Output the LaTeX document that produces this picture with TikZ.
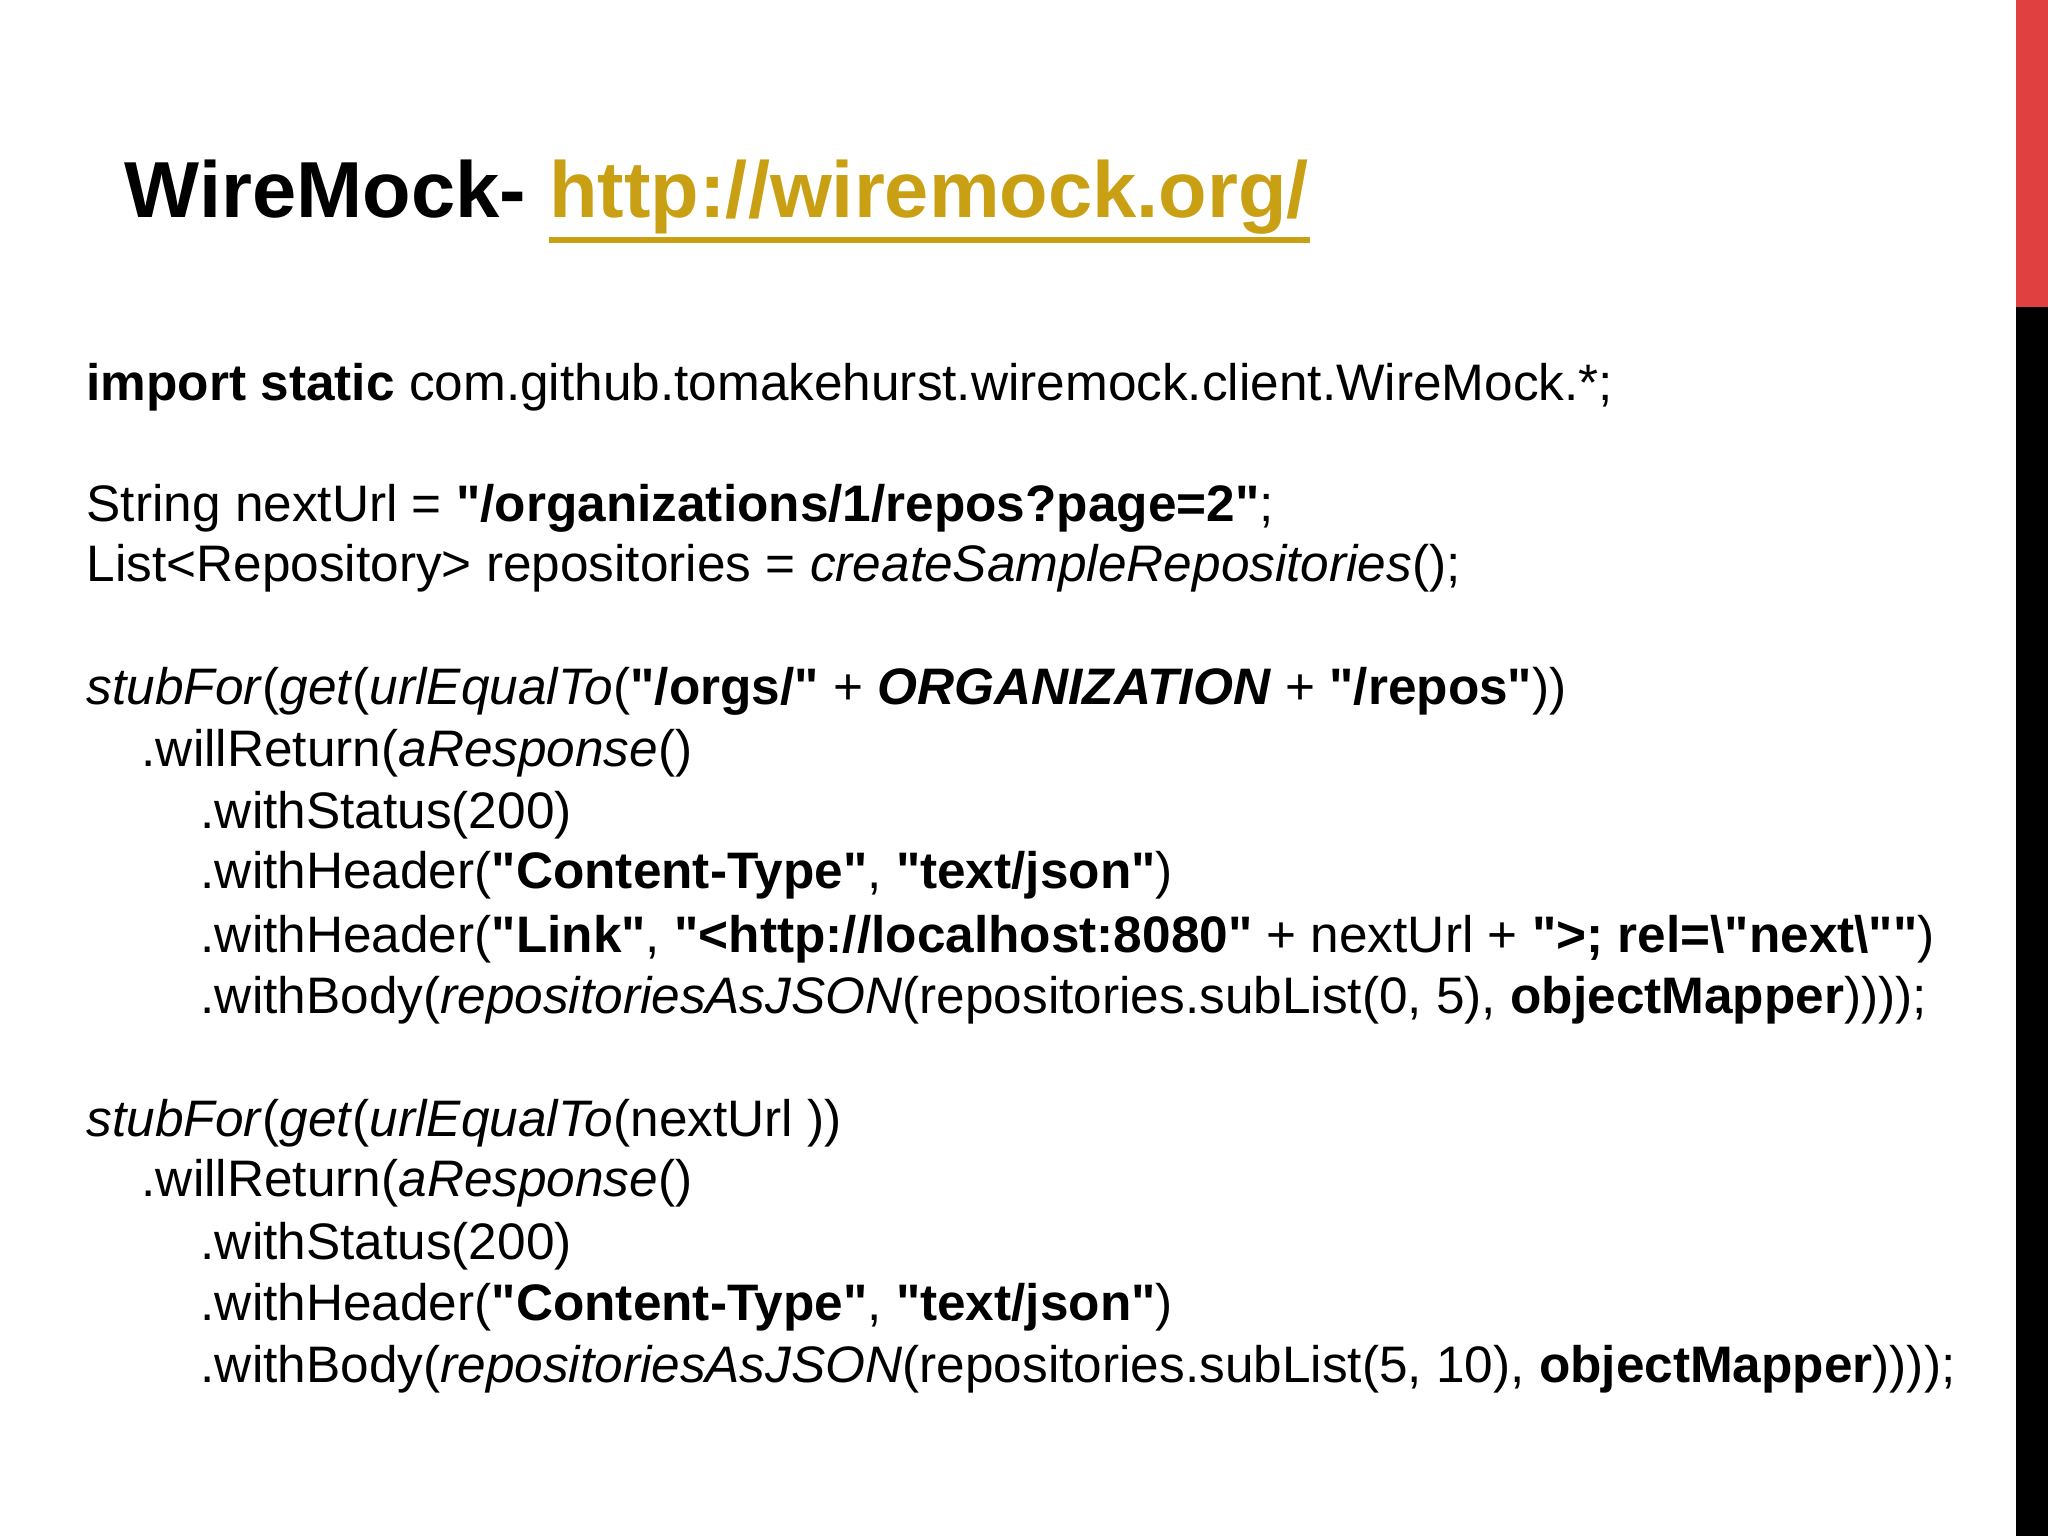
\documentclass[tikz,border=0pt]{standalone}
\usepackage{fontspec}
\setmainfont{Liberation Sans}[Ligatures=TeXOff]
\definecolor{gold}{HTML}{C9A013}
\definecolor{barred}{HTML}{E04040}
\newcommand{\B}[1]{\textbf{#1}}
\newcommand{\I}[1]{\textit{#1}}
\newcommand{\q}{"}
\begin{document}
\begin{tikzpicture}[x=0.01cm,y=-0.01cm,
  code/.style={anchor=west,inner sep=0pt,font=\fontsize{14.6}{18}\selectfont}]
\useasboundingbox[fill=white] (0,0) rectangle (2048,1536);
\fill[barred] (2016,0) rectangle (2048,307);
\fill[black] (2016,307) rectangle (2048,1536);
\node[anchor=base west,inner sep=0pt,font=\fontsize{22.6}{26}\selectfont\bfseries] (title) at (124,217) {WireMock-};
\node[anchor=base west,inner sep=0pt,font=\fontsize{22.6}{26}\selectfont\bfseries,text=gold] (link) at ([xshift=6.3pt]title.base east) {http://wiremock.org/};
\draw[gold,line width=1.8pt] ([yshift=-6.5pt]link.base west) -- ([yshift=-6.5pt]link.base east);
\begin{scope}[yshift=-1.5pt]
\node[code] (l1) at (86,382) {\B{import static} com.github.tomakehurst.wiremock.client.WireMock.*;};
\node[code] (l2) at (86,503) {String nextUrl = \B{\q/organizations/1/repos?page=2\q};};
\node[code] (l3) at (86,563) {List<Repository> repositories = \I{createSampleRepositories}();};
\node[code] (l4) at (86,686) {\I{stubFor}(\I{get}(\I{urlEqualTo}(\B{\q/orgs/\q} + \textbf{\textit{ORGANIZATION}} + \B{\q/repos\q}))};
\node[code] (l5) at (141,748) {.willReturn(\I{aResponse}()};
\node[code] (l6) at (200,810) {.withStatus(200)};
\node[code] (l7) at (200,870) {.withHeader(\B{\q Content-Type\q}, \B{\q text/json\q})};
\node[code] (l8) at (200,934) {.withHeader(\B{\q Link\q}, \B{\q<http://localhost:8080\q} + nextUrl + \B{\q>; rel=\textbackslash\q next\textbackslash\q\q})};
\node[code] (l9) at (200,995) {.withBody(\I{repositoriesAsJSON}(repositories.subList(0, 5), \B{objectMapper}))));};
\node[code] (l10) at (86,1118) {\I{stubFor}(\I{get}(\I{urlEqualTo}(nextUrl ))};
\node[code] (l11) at (141,1178) {.willReturn(\I{aResponse}()};
\node[code] (l12) at (200,1241) {.withStatus(200)};
\node[code] (l13) at (200,1302) {.withHeader(\B{\q Content-Type\q}, \B{\q text/json\q})};
\node[code] (l14) at (200,1364) {.withBody(\I{repositoriesAsJSON}(repositories.subList(5, 10), \B{objectMapper}))));};
\end{scope}
\end{tikzpicture}
\end{document}
